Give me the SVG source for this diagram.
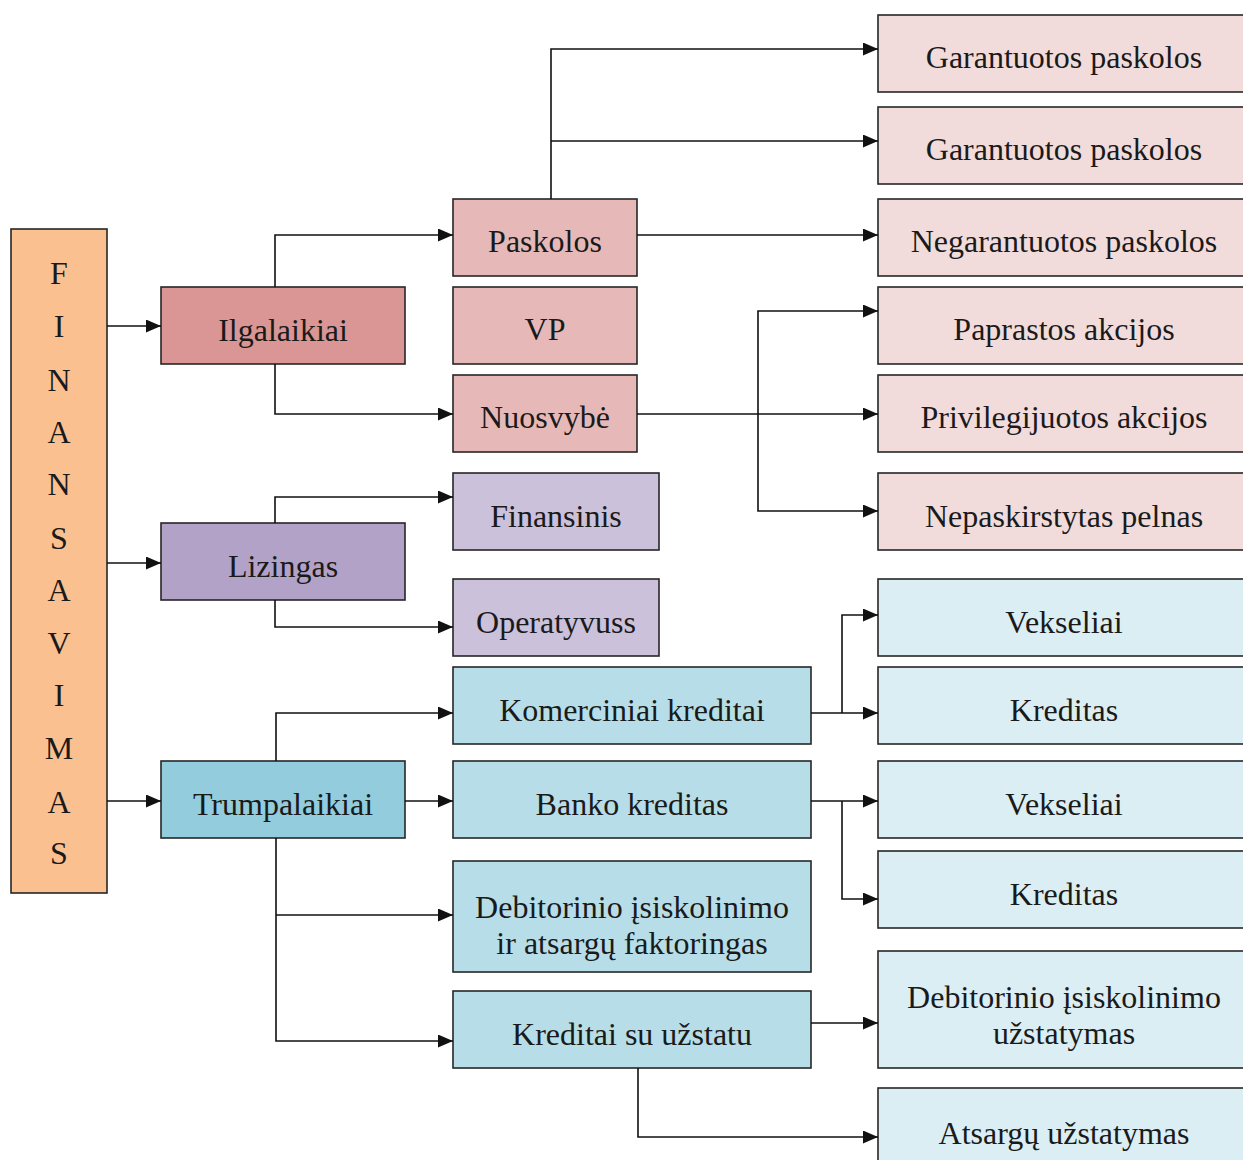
<svg xmlns="http://www.w3.org/2000/svg" width="1243" height="1160" viewBox="0 0 1243 1160" font-family="'Liberation Serif', 'DejaVu Serif', serif">
  <defs>
    <marker id="arr" viewBox="0 0 15 13" refX="15" refY="6.5" markerWidth="15" markerHeight="13" markerUnits="userSpaceOnUse" orient="auto">
      <path d="M0,0 L15,6.5 L0,13 Z" fill="#111"/>
    </marker>
    <style>
      rect { stroke: #262626; stroke-width: 1.6; }
      text { font-family: 'Liberation Serif', 'DejaVu Serif', serif; font-size: 32px; fill: #1a1a1a; text-anchor: middle; }
      .c0 { fill: #FAC090; }
      .r1 { fill: #D99694; } .r2 { fill: #E6B9B8; } .r3 { fill: #F2DCDB; }
      .p1 { fill: #B3A2C7; } .p2 { fill: #CCC1DA; }
      .b1 { fill: #93CDDD; } .b2 { fill: #B7DEE8; } .b3 { fill: #DBEEF4; }
      #connectors path { fill: none; stroke: #111; stroke-width: 1.6; }
      #connectors .a { marker-end: url(#arr); }
    </style>
  </defs>

  <rect width="1243" height="1160" fill="#fff" style="stroke:none"/>

  <!-- root -->
  <g id="finansavimas">
    <rect class="c0" x="11" y="229" width="96" height="664"/>
    <text x="59" y="284">F</text>
    <text x="59" y="337">I</text>
    <text x="59" y="391">N</text>
    <text x="59" y="443">A</text>
    <text x="59" y="495">N</text>
    <text x="59" y="549">S</text>
    <text x="59" y="601">A</text>
    <text x="59" y="654">V</text>
    <text x="59" y="706">I</text>
    <text x="59" y="759">M</text>
    <text x="59" y="813">A</text>
    <text x="59" y="864">S</text>
  </g>

  <!-- level 1 -->
  <g id="ilgalaikiai"><rect class="r1" x="161" y="287" width="244" height="77"/><text x="283" y="341">Ilgalaikiai</text></g>
  <g id="lizingas"><rect class="p1" x="161" y="523" width="244" height="77"/><text x="283" y="577">Lizingas</text></g>
  <g id="trumpalaikiai"><rect class="b1" x="161" y="761" width="244" height="77"/><text x="283" y="815">Trumpalaikiai</text></g>

  <!-- level 2 -->
  <g id="paskolos"><rect class="r2" x="453" y="199" width="184" height="77"/><text x="545" y="252">Paskolos</text></g>
  <g id="vp"><rect class="r2" x="453" y="287" width="184" height="77"/><text x="545" y="340">VP</text></g>
  <g id="nuosvybe"><rect class="r2" x="453" y="375" width="184" height="77"/><text x="545" y="428">Nuosvybė</text></g>
  <g id="finansinis"><rect class="p2" x="453" y="473" width="206" height="77"/><text x="556" y="527">Finansinis</text></g>
  <g id="operatyvuss"><rect class="p2" x="453" y="579" width="206" height="77"/><text x="556" y="633">Operatyvuss</text></g>
  <g id="komerciniai"><rect class="b2" x="453" y="667" width="358" height="77"/><text x="632" y="721">Komerciniai kreditai</text></g>
  <g id="banko"><rect class="b2" x="453" y="761" width="358" height="77"/><text x="632" y="815">Banko kreditas</text></g>
  <g id="faktoringas"><rect class="b2" x="453" y="861" width="358" height="111"/><text x="632" y="918">Debitorinio įsiskolinimo</text><text x="632" y="954">ir atsargų faktoringas</text></g>
  <g id="uzstatu"><rect class="b2" x="453" y="991" width="358" height="77"/><text x="632" y="1045">Kreditai su užstatu</text></g>

  <!-- level 3 -->
  <g id="garantuotos1"><rect class="r3" x="878" y="15" width="372" height="77"/><text x="1064" y="68">Garantuotos paskolos</text></g>
  <g id="garantuotos2"><rect class="r3" x="878" y="107" width="372" height="77"/><text x="1064" y="160">Garantuotos paskolos</text></g>
  <g id="negarantuotos"><rect class="r3" x="878" y="199" width="372" height="77"/><text x="1064" y="252">Negarantuotos paskolos</text></g>
  <g id="paprastos"><rect class="r3" x="878" y="287" width="372" height="77"/><text x="1064" y="340">Paprastos akcijos</text></g>
  <g id="privilegijuotos"><rect class="r3" x="878" y="375" width="372" height="77"/><text x="1064" y="428">Privilegijuotos akcijos</text></g>
  <g id="nepaskirstytas"><rect class="r3" x="878" y="473" width="372" height="77"/><text x="1064" y="527">Nepaskirstytas pelnas</text></g>
  <g id="vekseliai1"><rect class="b3" x="878" y="579" width="372" height="77"/><text x="1064" y="633">Vekseliai</text></g>
  <g id="kreditas1"><rect class="b3" x="878" y="667" width="372" height="77"/><text x="1064" y="721">Kreditas</text></g>
  <g id="vekseliai2"><rect class="b3" x="878" y="761" width="372" height="77"/><text x="1064" y="815">Vekseliai</text></g>
  <g id="kreditas2"><rect class="b3" x="878" y="851" width="372" height="77"/><text x="1064" y="905">Kreditas</text></g>
  <g id="debitorinio"><rect class="b3" x="878" y="951" width="372" height="117"/><text x="1064" y="1008">Debitorinio įsiskolinimo</text><text x="1064" y="1044">užstatymas</text></g>
  <g id="atsargu"><rect class="b3" x="878" y="1088" width="372" height="90"/><text x="1064" y="1144">Atsargų užstatymas</text></g>

  <g id="connectors">
    <path class="a" d="M107,326 H161"/>
    <path class="a" d="M107,563 H161"/>
    <path class="a" d="M107,801 H161"/>
    <path class="a" d="M275,287 V235 H453"/>
    <path class="a" d="M275,364 V414 H453"/>
    <path class="a" d="M551,199 V49 H878"/>
    <path class="a" d="M551,141 H878"/>
    <path class="a" d="M637,235 H878"/>
    <path class="a" d="M637,414 H878"/>
    <path class="a" d="M758,414 V311 H878"/>
    <path class="a" d="M758,414 V511 H878"/>
    <path class="a" d="M275,523 V497 H453"/>
    <path class="a" d="M275,600 V627 H453"/>
    <path class="a" d="M276,761 V713 H453"/>
    <path class="a" d="M405,801 H453"/>
    <path class="a" d="M276,838 V1041 H453"/>
    <path class="a" d="M276,915 H453"/>
    <path class="a" d="M811,713 H878"/>
    <path class="a" d="M842,713 V615 H878"/>
    <path class="a" d="M811,801 H878"/>
    <path class="a" d="M842,801 V899 H878"/>
    <path class="a" d="M811,1023 H878"/>
    <path class="a" d="M638,1068 V1137 H878"/>
  </g>
</svg>
